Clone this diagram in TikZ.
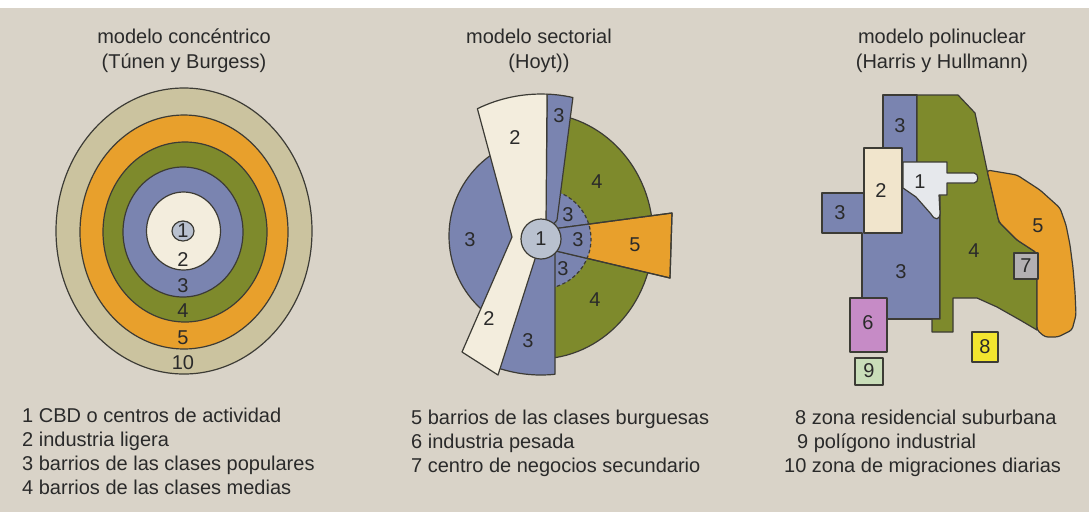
\documentclass[tikz,border=0pt]{standalone}
\usepackage{fontspec}
\setmainfont{Liberation Sans}
\definecolor{bg}{HTML}{D9D3C8}
\definecolor{ringout}{HTML}{CBC39F}
\definecolor{orng}{HTML}{E8A02C}
\definecolor{olive}{HTML}{7E8A2C}
\definecolor{bluz}{HTML}{7A84B0}
\definecolor{cream}{HTML}{F3EDDD}
\definecolor{creamb}{HTML}{F1E5CC}
\definecolor{cbd}{HTML}{B9C1CF}
\definecolor{cbdw}{HTML}{E6E8EC}
\definecolor{gray7}{HTML}{B3B0B2}
\definecolor{purp}{HTML}{C68BC6}
\definecolor{lgreen}{HTML}{C9DDB9}
\definecolor{yell}{HTML}{F3E52F}
\definecolor{ink}{HTML}{2A2A2A}
\definecolor{edge}{HTML}{3C3B35}
\tikzset{
  zone/.style={draw=edge, line width=1.2pt, line join=round},
  boxz/.style={draw=edge, line width=1.4pt, line join=round},
  lbl/.style={font=\fontsize{20}{24}\selectfont, text=ink, inner sep=0pt},
  legend/.style={font=\fontsize{20}{24}\selectfont, text=ink, inner sep=0pt, anchor=base west},
  ttl/.style={font=\fontsize{20}{24}\selectfont, text=ink, inner sep=0pt, anchor=base}
}
\begin{document}
\begin{tikzpicture}[x=1pt,y=1pt,yscale=-1]
\useasboundingbox (0,0) rectangle (1089,512);
\fill[bg] (0,0) rectangle (1089,512);
\fill[white] (0,0) rectangle (1089,8);

% ---------- titles ----------
\node[ttl] (t1a) at (184,43) {modelo concéntrico};
\node[ttl] (t1b) at (184,68) {(Túnen y Burgess)};
\node[ttl] (t2a) at (539,43) {modelo sectorial};
\node[ttl] (t2b) at (539,68) {(Hoyt))};
\node[ttl] (t3a) at (942,43) {modelo polinuclear};
\node[ttl] (t3b) at (942,68) {(Harris y Hullmann)};

% ---------- concentric model ----------
\filldraw[zone, fill=ringout] (184,231) ellipse[x radius=128, y radius=143];
\filldraw[zone, fill=orng] (184,232) ellipse[x radius=104, y radius=117];
\filldraw[zone, fill=olive] (185,232) ellipse[x radius=82, y radius=90];
\filldraw[zone, fill=bluz] (183,232) ellipse[x radius=60, y radius=65];
\filldraw[zone, fill=cream] (183.5,231) ellipse[x radius=37, y radius=39];
\filldraw[zone, fill=cbd] (183,231) ellipse[x radius=11, y radius=10];
\node[lbl] (c1) at (183,231) {1};
\node[lbl] (c2) at (183,259.5) {2};
\node[lbl] (c3) at (183,286) {3};
\node[lbl] (c4) at (183,311) {4};
\node[lbl] (c5) at (183,337.5) {5};
\node[lbl] (c10) at (183,362.5) {10};

% ---------- sectorial model ----------
\filldraw[zone, fill=bluz] (548,236) circle[radius=99];
\begin{scope}
  \clip (578,60) -- (720,60) -- (720,400) -- (555,400) -- (555,239) -- (557,220) -- cycle;
  \filldraw[zone, fill=olive] (538,236) ellipse[x radius=115, y radius=123];
  \fill[bluz] (541,239) circle[radius=50];
\end{scope}
\filldraw[zone, fill=orng] (556,228.5) -- (672,213) -- (670,278) -- (556,251) -- cycle;
\begin{scope}
  \clip (541,239) circle[radius=50];
  \fill[bluz] (556,228.5) -- (672,213) -- (670,278) -- (556,251) -- cycle;
\end{scope}
\draw[zone] (556,228.5) -- (672,213) -- (670,278) -- (556,251);
\draw[zone, dash pattern=on 3.5pt off 2.5pt] (541,239) ++(-70:50) arc[start angle=-70, end angle=73, radius=50];
% upper blue strip
\filldraw[zone, fill=bluz] (546,222) -- (547.1,94.1) arc[start angle=-87.6, end angle=-77.3, radius=145] -- (557,220) -- (541,239) -- cycle;
% lower blue sector
\filldraw[zone, fill=bluz] (541,239) -- (494.5,366.8) arc[start angle=110, end angle=84.1, radius=136] -- (555,239) -- cycle;
% cream band
\filldraw[zone, fill=cream] (512,237) -- (477.4,108.7) arc[start angle=-116, end angle=-87.6, radius=145] -- (546,222) -- (541,239) -- (535,259) -- (498,375) -- (462,352) -- cycle;
\filldraw[zone, fill=cbd] (541,239) circle[radius=20];
\node[lbl] (s1) at (541,239) {1};
\node[lbl] (s2a) at (515,138) {2};
\node[lbl] (s3a) at (559,116) {3};
\node[lbl] (s4a) at (597,182) {4};
\node[lbl] (s3b) at (470,240) {3};
\node[lbl] (s3c) at (568,215) {3};
\node[lbl] (s3d) at (578,240) {3};
\node[lbl] (s3e) at (563,269) {3};
\node[lbl] (s5) at (635,245) {5};
\node[lbl] (s4b) at (595,300) {4};
\node[lbl] (s2b) at (489,319) {2};
\node[lbl] (s3f) at (528,341) {3};

% ---------- polynuclear model ----------
\filldraw[zone, fill=bluz] (883,95) -- (917,95) -- (917,195) -- (940,195) -- (940,319) -- (862,319) -- (862,233) -- (822,233) -- (822,193) -- (883,193) -- cycle;
\filldraw[zone, fill=creamb] (864,148) rectangle (902,233);
\filldraw[zone, fill=olive] (917,95) -- (958,95) -- (975,113) -- (987,170) -- (999,222) -- (1017,240) -- (1037,253) -- (1037,330) -- (1020,320) -- (997,307) -- (977,298) -- (953,298) -- (953,332) -- (932,332) -- (932,319) -- (940,319) -- (940,195) -- (917,195) -- cycle;
\filldraw[zone, fill=orng, rounded corners=3pt] (987,170) -- (1017,175) -- (1040,190) -- (1060,208) -- (1066,225) -- (1070,245) -- (1073,268) -- (1075,292) -- (1076,315) -- (1072,330) -- (1058,337) -- (1045,337) -- (1037,330) -- (1037,253) -- (1017,240) -- (999,222) -- cycle;
\filldraw[zone, fill=cbdw] (903,162) -- (947,162) -- (947,173) -- (974,173) .. controls (979,173) and (979,183) .. (974,183) -- (947,183) -- (947,195) -- (939,195) -- (940,213) .. controls (940,220) and (935,221) .. (931,214) -- (916,197) -- (903,188) -- cycle;
\filldraw[boxz, fill=gray7] (1014,253) rectangle (1038,279);
\filldraw[boxz, fill=purp] (850,298) rectangle (887,352);
\filldraw[boxz, fill=lgreen] (855,358) rectangle (883,385);
\filldraw[boxz, fill=yell] (972,332) rectangle (998,362);
\node[lbl] (p3a) at (900,126) {3};
\node[lbl] (p2) at (881,191) {2};
\node[lbl] (p3b) at (840,213) {3};
\node[lbl] (p1) at (920,182) {1};
\node[lbl] (p3c) at (901,272) {3};
\node[lbl] (p4) at (974,251) {4};
\node[lbl] (p5) at (1038,226) {5};
\node[lbl] (p7) at (1026,266) {7};
\node[lbl] (p6) at (868,323) {6};
\node[lbl] (p9) at (869,371) {9};
\node[lbl] (p8) at (985,347) {8};

% ---------- legend ----------
\node[legend] (L1) at (22,422) {1 CBD o centros de actividad};
\node[legend] (L2) at (22,446) {2 industria ligera};
\node[legend] (L3) at (22,470) {3 barrios de las clases populares};
\node[legend] (L4) at (22,494) {4 barrios de las clases medias};
\node[legend] (L5) at (411,424) {5 barrios de las clases burguesas};
\node[legend] (L6) at (411,448) {6 industria pesada};
\node[legend] (L7) at (411,472) {7 centro de negocios secundario};
\node[legend] (L8) at (795,424) {8 zona residencial suburbana};
\node[legend] (L9) at (797,448) {9 polígono industrial};
\node[legend] (L10) at (784,472) {10 zona de migraciones diarias};
\end{tikzpicture}
\end{document}
